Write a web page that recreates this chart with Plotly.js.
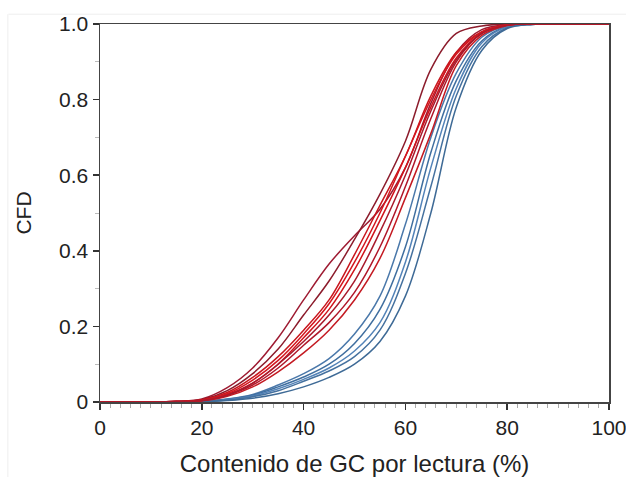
<!DOCTYPE html>
<html>
<head>
<meta charset="utf-8">
<script src="https://cdn.plot.ly/plotly-3.0.1.min.js"></script>
<style>html,body{margin:0;padding:0;background:#fff;overflow:hidden;}#chart{width:626px;height:477px;}</style>
</head>
<body>
<div id="chart"></div>
<script>
// GC content (%) sample points
const gc = [0, 10, 15, 20, 25, 30, 35, 40, 45, 50, 55, 60, 65, 70, 75, 80, 85, 90, 100];

// Red samples (CFD)
const red1 = [0, 0, 0.002, 0.008, 0.038, 0.09, 0.17, 0.27, 0.365, 0.44, 0.51, 0.62, 0.79, 0.925, 0.985, 0.998, 1, 1, 1];
const red2 = [0, 0, 0.001, 0.006, 0.03, 0.075, 0.14, 0.23, 0.32, 0.43, 0.55, 0.69, 0.88, 0.975, 0.995, 1, 1, 1, 1];
const red3 = [0, 0, 0.001, 0.005, 0.025, 0.065, 0.12, 0.19, 0.27, 0.39, 0.52, 0.65, 0.81, 0.925, 0.98, 0.998, 1, 1, 1];
const red4 = [0, 0, 0.001, 0.004, 0.02, 0.05, 0.10, 0.17, 0.245, 0.35, 0.48, 0.62, 0.78, 0.91, 0.975, 0.997, 1, 1, 1];
const red5 = [0, 0, 0.001, 0.004, 0.018, 0.045, 0.09, 0.15, 0.21, 0.29, 0.41, 0.57, 0.75, 0.90, 0.975, 0.997, 1, 1, 1];
const red6 = [0, 0, 0.0005, 0.003, 0.015, 0.04, 0.08, 0.13, 0.19, 0.27, 0.38, 0.54, 0.71, 0.89, 0.97, 0.996, 1, 1, 1];
const red7 = [0, 0, 0.001, 0.005, 0.022, 0.058, 0.11, 0.18, 0.26, 0.37, 0.50, 0.65, 0.80, 0.92, 0.978, 0.998, 1, 1, 1];
const red8 = [0, 0, 0.001, 0.004, 0.018, 0.05, 0.10, 0.16, 0.23, 0.32, 0.45, 0.60, 0.77, 0.905, 0.975, 0.997, 1, 1, 1];

// Blue samples (CFD)
const blue1 = [0, 0, 0.0005, 0.002, 0.008, 0.02, 0.045, 0.075, 0.115, 0.18, 0.28, 0.47, 0.70, 0.87, 0.965, 0.996, 1, 1, 1];
const blue2 = [0, 0, 0.0003, 0.0015, 0.007, 0.018, 0.04, 0.066, 0.10, 0.155, 0.245, 0.41, 0.66, 0.85, 0.955, 0.994, 1, 1, 1];
const blue3 = [0, 0, 0.0002, 0.001, 0.006, 0.016, 0.035, 0.06, 0.09, 0.135, 0.21, 0.37, 0.62, 0.83, 0.95, 0.993, 1, 1, 1];
const blue4 = [0, 0, 0.0002, 0.001, 0.005, 0.014, 0.03, 0.055, 0.082, 0.12, 0.19, 0.34, 0.57, 0.81, 0.94, 0.99, 0.999, 1, 1];
const blue5 = [0, 0, 0.0001, 0.0008, 0.004, 0.01, 0.022, 0.04, 0.065, 0.10, 0.16, 0.28, 0.50, 0.78, 0.93, 0.988, 0.999, 1, 1];

const redSeries = [red1, red2, red3, red4, red5, red6, red7, red8];
const blueSeries = [blue1, blue2, blue3, blue4, blue5];
const redColors = ['#9e1b32', '#8c1c2c', '#c8161d', '#d0141c', '#b0172a', '#c41a22', '#d3161e', '#a81a2c'];
const blueColors = ['#4a78aa', '#3f6e9f', '#5383b8', '#45719f', '#3e6a96'];

const xTickVals = [0, 20, 40, 60, 80, 100];
const xTickText = ['0', '20', '40', '60', '80', '100'];
const yTickVals = [0, 0.2, 0.4, 0.6, 0.8, 1.0];
const yTickText = ['0', '0.2', '0.4', '0.6', '0.8', '1.0'];

const traces = [];
blueSeries.forEach((s, i) => traces.push({
  x: gc, y: s, type: 'scatter', mode: 'lines',
  line: {color: blueColors[i], width: 1.5, shape: 'spline', smoothing: 1},
  hoverinfo: 'skip', showlegend: false
}));
redSeries.forEach((s, i) => traces.push({
  x: gc, y: s, type: 'scatter', mode: 'lines',
  line: {color: redColors[i], width: 1.5, shape: 'spline', smoothing: 1},
  hoverinfo: 'skip', showlegend: false
}));

const font = {family: 'Liberation Sans, Arial, sans-serif', size: 21, color: '#222'};
const xTitleFont = {family: 'Liberation Sans, Arial, sans-serif', size: 24, color: '#222'};

const layout = {
  width: 626, height: 477,
  margin: {l: 100, r: 17, t: 24, b: 75},
  paper_bgcolor: '#ffffff', plot_bgcolor: '#ffffff',
  font: font,
  showlegend: false,
  xaxis: {
    range: [0, 100], tickvals: xTickVals, ticktext: xTickText,
    ticks: 'outside', ticklen: 6, tickwidth: 1.5, tickcolor: '#333',
    ticklabeloverflow: 'allow',
    showline: true, linecolor: '#444', linewidth: 1.5, mirror: true,
    showgrid: false, zeroline: false,
    minor: {dtick: 2, ticks: 'outside', ticklen: 4, tickcolor: '#aaa', tickwidth: 1},
    tickfont: font,
    title: {text: 'Contenido de GC por lectura (%)', font: xTitleFont, standoff: 19}
  },
  yaxis: {
    range: [0, 1], tickvals: yTickVals, ticktext: yTickText,
    ticks: 'outside', ticklen: 6, tickwidth: 1.5, tickcolor: '#333',
    showline: true, linecolor: '#444', linewidth: 1.5, mirror: true,
    showgrid: false, zeroline: false,
    minor: {dtick: 0.1, ticks: 'outside', ticklen: 4, tickcolor: '#bbb', tickwidth: 1},
    tickfont: font,
    title: {text: 'CFD', font: font, standoff: 21}
  },
  shapes: [
    {type: 'line', xref: 'paper', yref: 'paper', x0: -0.18, x1: 1.05, y0: 1.026, y1: 1.026,
     line: {color: '#eeeeee', width: 1}},
    {type: 'line', xref: 'paper', yref: 'paper', x0: -0.181, x1: -0.181, y0: 1.026, y1: -0.2,
     line: {color: '#eeeeee', width: 1}}
  ]
};

Plotly.newPlot('chart', traces, layout, {displayModeBar: false, staticPlot: true});
</script>
</body>
</html>
